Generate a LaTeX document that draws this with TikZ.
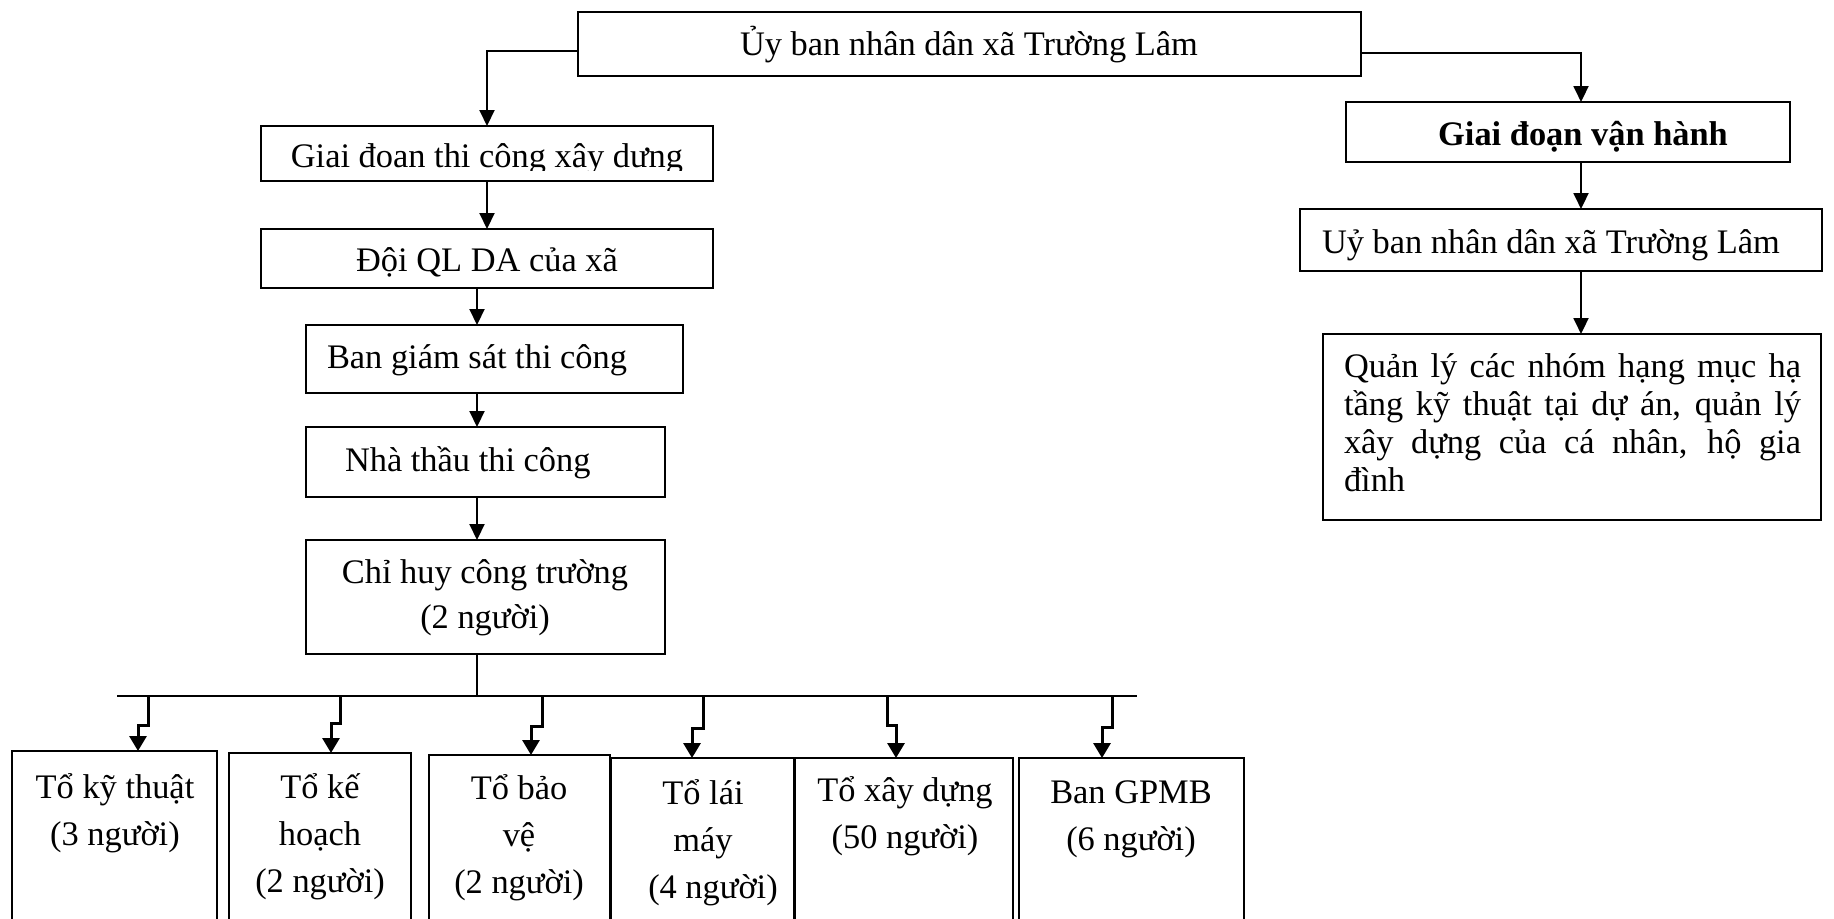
\documentclass[tikz,border=0pt]{standalone}
\usepackage{fontspec}
\setmainfont{Liberation Serif}
\usetikzlibrary{arrows.meta,fit}
\begin{document}
\begin{tikzpicture}[x=0.5pt,y=-0.5pt,
  box/.style={draw, line width=0.8pt, inner sep=0pt, outer sep=0pt},
  txt/.style={inner sep=0pt, outer sep=0pt, font=\fontsize{17.2pt}{23.5pt}\selectfont},
  conn/.style={line width=1pt, -{Triangle[length=8pt,width=7.5pt]}},
  sub/.style={line width=1.5pt, -{Triangle[length=7.5pt,width=8.5pt]}},
  busline/.style={line width=1.1pt}
  ]
\useasboundingbox (0,0) rectangle (1834,918);
\fill[white] (0,0) rectangle (1834,918);
\clip (0,0) rectangle (1834,918);

% ---------- boxes ----------
\node[box, fit={(578,12) (1361,76)}] (top) {};
\node[box, fit={(261,126) (713,181)}] (giai) {};
\node[box, fit={(261,229) (713,288)}] (doi) {};
\node[box, fit={(306,325) (683,393)}] (ban) {};
\node[box, fit={(306,427) (665,497)}] (nha) {};
\node[box, fit={(306,540) (665,654)}] (chi) {};

\node[box, fit={(1346,102) (1790,162)}] (van) {};
\node[box, fit={(1300,209) (1822,271)}] (uy) {};
\node[box, fit={(1323,334) (1821,520)}] (ql) {};

\node[box, fit={(12,751) (217,940)}] (c1) {};
\node[box, fit={(229,753) (411,940)}] (c2) {};
\node[box, fit={(429,755) (610,940)}] (c3) {};
\node[box, fit={(611,758) (794,940)}] (c4) {};
\node[box, fit={(795,758) (1013,940)}] (c5) {};
\node[box, fit={(1019,758) (1244,940)}] (c6) {};

% ---------- texts (multi-line nodes anchored at their last baseline) ----------
\node[txt, anchor=base] (ttop) at (969,55) {Ủy ban nhân dân xã Trường Lâm};
\begin{scope}
  \clip (261,126) rectangle (713,170);
  \node[txt, anchor=base] (tgiai) at (487,167) {Giai đoan thi công xây dưng};
\end{scope}
\node[txt, anchor=base] (tdoi) at (487,271) {Đội QL DA của xã};
\node[txt, anchor=base west] (tban) at (327,368) {Ban giám sát thi công};
\node[txt, anchor=base west] (tnha) at (345,471) {Nhà thầu thi công};
\node[txt, anchor=base, align=center, font=\fontsize{17.2pt}{22.5pt}\selectfont] (tchi) at (485,628) {Chỉ huy công trường\\(2 người)};

\node[txt, anchor=base] (tvan) at (1583,145) {\textbf{Giai đoạn vận hành}};
\node[txt, anchor=base west] (tuy) at (1322,253) {Uỷ ban nhân dân xã Trường Lâm};
\node[txt, anchor=base west, text width=228.5pt, align=justify, font=\fontsize{17.2pt}{19pt}\selectfont] (tql) at (1344,377)
  {Quản lý các nhóm hạng mục hạ\linebreak tầng kỹ thuật tại dự án, quản lý\linebreak xây dựng của cá nhân, hộ gia\linebreak đình};

\node[txt, anchor=base, align=center] (t1) at (115,845) {Tổ kỹ thuật\\(3 người)};
\node[txt, anchor=base, align=center] (t2) at (320,892) {Tổ kế\\hoạch\\(2 người)};
\node[txt, anchor=base, align=center] (t3) at (519,893) {Tổ bảo\\vệ\\(2 người)};
\node[txt, anchor=base, align=center] (t4) at (703,898) {Tổ lái\\máy\\\hspace*{10pt}(4 người)};
\node[txt, anchor=base, align=center] (t5) at (905,848) {Tổ xây dựng\\(50 người)};
\node[txt, anchor=base, align=center] (t6) at (1131,850) {Ban GPMB\\(6 người)};

% ---------- connectors ----------
\coordinate (lcol) at (477,0);
\coordinate (rcol) at (1581,0);
\draw[conn] ([yshift=-3.5pt]top.west) -| (giai.north);
\draw[conn] ([yshift=-4.5pt]top.east) -| (rcol |- van.north);
\draw[conn] (giai.south) -- (doi.north);
\draw[conn] (lcol |- doi.south) -- (lcol |- ban.north);
\draw[conn] (lcol |- ban.south) -- (lcol |- nha.north);
\draw[conn] (lcol |- nha.south) -- (lcol |- chi.north);
\draw[conn] (rcol |- van.south) -- (rcol |- uy.north);
\draw[conn] (rcol |- uy.south) -- (rcol |- ql.north);

\coordinate (busL) at (117,696);
\coordinate (busR) at (1137,696);
\draw[busline] (busL) -- (busR);
\draw[line width=0.8pt] (lcol |- chi.south) -- (lcol |- busL);

\coordinate (s1) at (148,696);  \coordinate (k1) at (138,725);
\coordinate (s2) at (340,696);  \coordinate (k2) at (331,723);
\coordinate (s3) at (542,696);  \coordinate (k3) at (531,726);
\coordinate (s4) at (703,696);  \coordinate (k4) at (692,728);
\coordinate (s5) at (887,696);  \coordinate (k5) at (896,725);
\coordinate (s6) at (1112,696); \coordinate (k6) at (1102,727);
\draw[sub] (s1) |- (k1) -- (k1 |- c1.north);
\draw[sub] (s2) |- (k2) -- (k2 |- c2.north);
\draw[sub] (s3) |- (k3) -- (k3 |- c3.north);
\draw[sub] (s4) |- (k4) -- (k4 |- c4.north);
\draw[sub] (s5) |- (k5) -- (k5 |- c5.north);
\draw[sub] (s6) |- (k6) -- (k6 |- c6.north);
\end{tikzpicture}
\end{document}
